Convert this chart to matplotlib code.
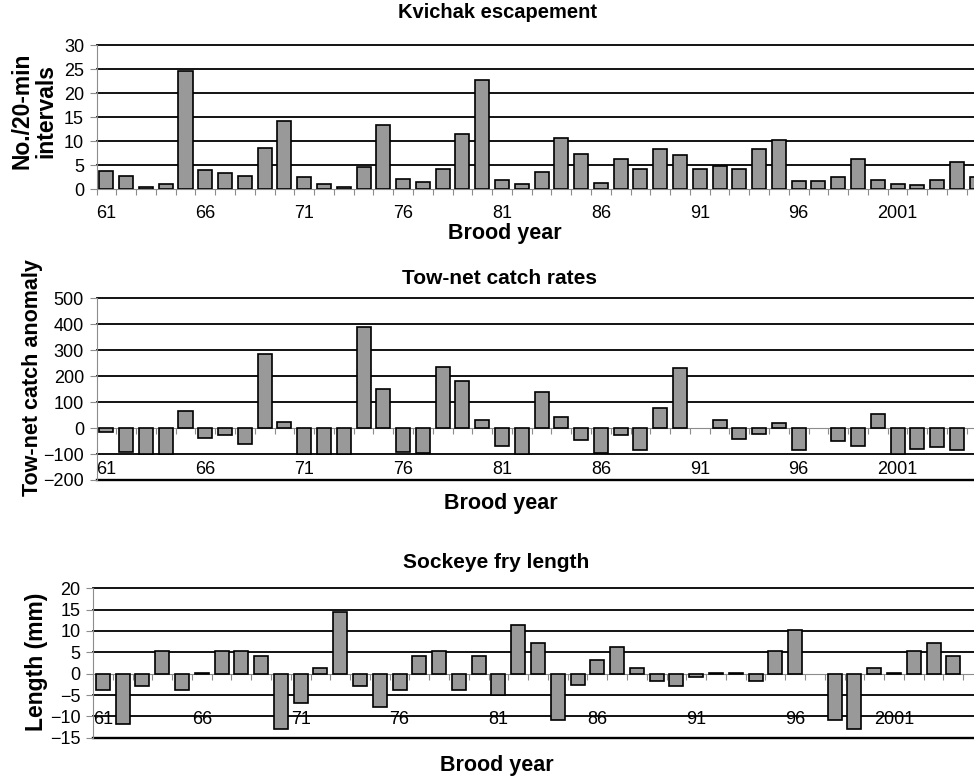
import numpy as np
import matplotlib
matplotlib.use('Agg')
import matplotlib.pyplot as plt

plt.rcParams['font.family'] = ['Liberation Sans', 'DejaVu Sans']

# brood years 1961-2005, one bar per year
years = np.arange(1961, 2006)
label_years = [1961, 1966, 1971, 1976, 1981, 1986, 1991, 1996, 2001]
label_text = ['61', '66', '71', '76', '81', '86', '91', '96', '2001']

# Kvichak escapement (No./20-min intervals)
escapement = [3.9, 2.8, 0.4, 1.2, 24.5, 3.95, 3.3, 2.8, 8.6, 14.1,
              2.6, 1.2, 0.4, 4.6, 13.3, 2.1, 1.45, 4.2, 11.4, 22.7,
              1.95, 1.2, 3.7, 10.6, 7.35, 1.3, 6.3, 4.2, 8.45, 7.1,
              4.3, 4.8, 4.15, 8.45, 10.2, 1.65, 1.65, 2.5, 6.4, 1.95,
              1.2, 0.9, 1.9, 5.6, 2.5]

# tow-net catch anomaly
townet = [-15, -94, -100, -98, 66, -39, -28, -63, 284, 22,
          -100, -100, -100, 390, 150, -92, -97, 235, 180, 30,
          -68, -98, 138, 44, -45, -97, -26, -85, 78, 233,
          np.nan, 31, -43, -23, 21, -83, np.nan, -50, -70, 54,
          -100, -81, -72, -83, np.nan]

# sockeye fry length anomaly (mm)
fry_length = [-3.8, -11.8, -2.8, 5.3, -3.8, 0.2, 5.3, 5.3, 4.25, -13,
              -6.8, 1.25, 14.4, -2.8, -7.8, -3.8, 4.25, 5.2, -3.8, 4.25,
              -4.9, 11.3, 7.2, -10.9, -2.75, 3.3, 6.3, 1.25, -1.7, -2.8,
              -0.8, 0.15, 0.15, -1.8, 5.3, 10.2, np.nan, -10.9, -13, 1.25,
              0.15, 5.3, 7.2, 4.25, np.nan]

W, H = 974, 776
fig = plt.figure(figsize=(W / 100, H / 100), dpi=100)


def px_axes(left, right, top, bottom):
    return fig.add_axes([left / W, 1 - bottom / H, (right - left) / W, (bottom - top) / H])


def panel(ax, values, lo, hi, step, xpad):
    x = np.arange(len(years))
    for v in np.arange(lo, hi + step / 2, step):
        if v == 0:
            continue
        lw = 1.7 if v == lo and lo < 0 else 1.3
        ax.axhline(v, color='black', lw=lw, zorder=1, clip_on=False)
    ax.bar(x, values, width=0.71, color='#999999', edgecolor='black',
           linewidth=1.2, zorder=3)
    ax.set_xlim(-0.5, len(years) - 0.5)
    ax.set_ylim(lo, hi)
    ax.spines['top'].set_visible(False)
    ax.spines['right'].set_visible(False)
    ax.spines['bottom'].set_position(('data', 0))
    ax.spines['bottom'].set_color('#8c8c8c')
    ax.spines['left'].set_color('#8c8c8c')
    ax.spines['bottom'].set_linewidth(0.8)
    ax.spines['left'].set_linewidth(0.8)
    ax.set_yticks(np.arange(lo, hi + step / 2, step))
    ax.set_xticks([list(years).index(y) for y in label_years])
    ax.set_xticklabels(label_text)
    ax.set_xticks(np.arange(len(years) + 1) - 0.5, minor=True)
    ax.tick_params(axis='x', which='major', length=0, pad=xpad, labelsize=13)
    ax.tick_params(axis='x', which='minor', length=4, width=0.8,
                   color='#8c8c8c', direction='out')
    ax.tick_params(axis='y', length=5, width=0.8, color='#8c8c8c', pad=4,
                   labelsize=13)
    ax.patch.set_visible(False)


ax1 = px_axes(96.5, 986.6, 45, 189.3)
panel(ax1, escapement, 0, 30, 5, 11.6)

ax2 = px_axes(96.5, 986.6, 298.3, 480)
panel(ax2, townet, -200, 500, 100, 23.8)

ax3 = px_axes(93, 983, 588.3, 737.7)
panel(ax3, fry_length, -15, 20, 5, 26.8)


def ftext(x, y, s, **kw):
    fig.text(x / W, 1 - y / H, s, ha='center', va='center',
             fontweight='bold', **kw)


ftext(497, 13, 'Kvichak escapement', fontsize=14.5)
ftext(500, 278, 'Tow-net catch rates', fontsize=15)
ftext(496, 562, 'Sockeye fry length', fontsize=15)

ftext(505, 233, 'Brood year', fontsize=15.5)
ftext(501, 504, 'Brood year', fontsize=15.5)
ftext(497, 765, 'Brood year', fontsize=15.5)

ftext(34, 111, 'No./20-min\nintervals', fontsize=16.5, rotation=90,
      linespacing=1.0)
ftext(33, 378, 'Tow-net catch anomaly', fontsize=15.5, rotation=90)
ftext(37, 662, 'Length (mm)', fontsize=16.5, rotation=90)

fig.savefig('out.png', dpi=100)
